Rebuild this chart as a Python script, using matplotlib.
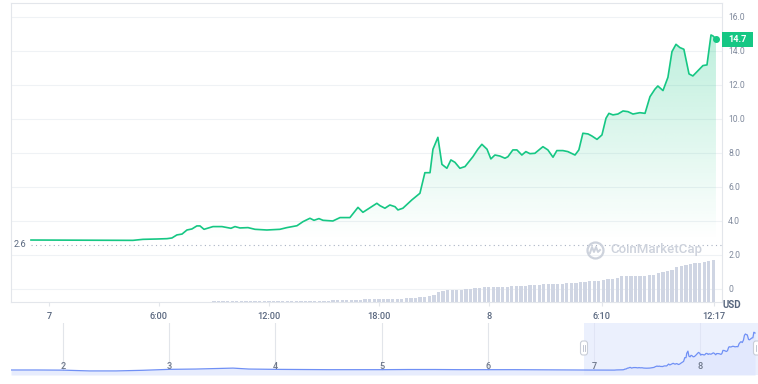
import numpy as np
import matplotlib
matplotlib.use("Agg")
import matplotlib.pyplot as plt
import matplotlib.transforms as mtransforms
from matplotlib.patches import Rectangle, FancyBboxPatch
from matplotlib.lines import Line2D

plt.rcParams['font.family'] = ['Roboto', 'DejaVu Sans']

# ---------------- data ----------------
# price: hours since 00:00 of day 7, USD
price_hours = [-0.98, 4.58, 5.13, 5.89, 6.44, 6.71, 6.98, 7.26, 7.53, 7.80, 8.07, 8.24,
               8.46, 8.95, 9.44, 9.93, 10.15, 10.42, 10.86, 11.24, 11.89, 12.60, 12.98,
               13.53, 13.86, 14.24, 14.46, 14.73, 14.95, 15.49, 15.88, 16.42, 16.86,
               17.13, 17.89, 18.06, 18.33, 18.60, 18.88, 19.04, 19.31, 19.80, 20.24,
               20.51, 20.79, 20.95, 21.22, 21.44, 21.71, 21.93, 22.15, 22.42, 22.70,
               23.13, 23.40, 23.62, 23.90, 24.11, 24.33, 24.60, 24.88, 25.04, 25.31,
               25.53, 25.80, 26.02, 26.24, 26.51, 26.95, 27.22, 27.50, 27.71, 28.04,
               28.31, 28.70, 28.91, 29.13, 29.41, 29.62, 29.90, 30.17, 30.39, 30.55,
               30.77, 31.04, 31.32, 31.59, 31.86, 32.24, 32.52, 32.79, 33.06, 33.22,
               33.50, 33.77, 33.99, 34.21, 34.42, 34.64, 34.92, 35.13, 35.41, 35.68,
               35.90, 36.12, 36.23, 36.39]
price_usd = [2.88, 2.86, 2.92, 2.94, 2.96, 3.00, 3.18, 3.23, 3.47, 3.53, 3.71, 3.71,
             3.51, 3.67, 3.67, 3.57, 3.67, 3.59, 3.61, 3.51, 3.47, 3.51, 3.61,
             3.72, 3.96, 4.16, 4.04, 4.14, 4.04, 4.00, 4.20, 4.20, 4.80,
             4.51, 5.04, 4.90, 4.75, 4.94, 4.84, 4.65, 4.75, 5.24, 5.63,
             6.84, 6.84, 8.22, 8.92, 7.33, 7.10, 7.59, 7.45, 7.10, 7.20,
             7.78, 8.22, 8.51, 8.22, 7.65, 7.88, 7.82, 7.69, 7.78, 8.18,
             8.18, 7.88, 8.08, 7.96, 7.98, 8.37, 8.18, 7.75, 8.14, 8.14,
             8.08, 7.88, 8.18, 9.16, 9.12, 9.00, 8.80, 9.06, 10.04, 10.33,
             10.24, 10.29, 10.47, 10.43, 10.29, 10.37, 10.33, 11.31, 11.75, 11.94,
             11.67, 12.45, 13.96, 14.39, 14.20, 14.10, 12.65, 12.53, 12.84, 13.14,
             13.18, 14.94, 14.88, 14.70]

# 15-minute volume bars starting 09:00 on day 7 (arbitrary units)
volume_start_hour = 9.0
volume_step_hours = 0.25
volume = ([1.0] * 19 + [1.3] * 7 + [2.0] * 7 + [3.0] * 3 + [3.5] * 6 + [4.0] * 3 +
          [5.0] * 2 + [6.3, 7.3, 9.7, 11.0] + [12.0] * 4 + [12.7] * 2 + [14.0] * 2 +
          [14.7] * 2 + [15.3] * 4 + [16.0] * 4 + [16.7] * 3 + [18.0] * 5 + [18.7] * 3 +
          [19.7] * 2 + [20.7] * 3 + [22.3, 23.0, 23.3, 24.3] + [25.7] * 6 +
          [26.7, 27.3, 29.0, 30.0, 31.0, 32.3, 34.7, 35.7, 36.7, 37.7, 38.7, 39.3,
           39.7, 40.7, 42.5])

# x ticks of main chart
xtick_hours = [0, 6, 12, 18, 24, 30 + 10 / 60, 36 + 17 / 60]
xtick_labels = ['7', '6:00', '12:00', '18:00', '8', '6:10', '12:17']
ytick_values = [0, 2, 4, 6, 8, 10, 12, 14, 16]
ytick_labels = ['0', '2.0', '4.0', '6.0', '8.0', '10.0', '12.0', '14.0', '16.0']
open_price = 2.6
last_price_label = '14.7'

# navigator (days of month), history before the main window
nav_hist_days = [1.51, 1.75, 2.0, 2.25, 2.5, 2.75, 3.0, 3.25, 3.5, 3.6, 3.75, 4.0, 4.25,
                 4.5, 4.75, 5.0, 5.25, 5.5, 5.75, 6.0, 6.25, 6.5, 6.75]
nav_hist_price = [2.9, 2.9, 2.85, 2.6, 2.6, 2.8, 3.1, 3.2, 3.4, 3.5, 3.2, 3.1, 3.05,
                  3.0, 3.0, 3.0, 3.05, 3.05, 3.0, 3.0, 3.0, 2.95, 2.9]
nav_day_ticks = [2, 3, 4, 5, 6, 7, 8]
nav_day_labels = ['2', '3', '4', '5', '6', '7', '8']
main_window_day = 7  # day the main chart hours are counted from

# ---------------- style ----------------
GREEN = '#16c784'
GRID = '#eff2f5'
FRAME = '#e3e6eb'
TXT = '#58667e'
TXT2 = '#808a9d'

W, H = 758, 384
fig = plt.figure(figsize=(W / 100, H / 100), dpi=100)
fig.patch.set_facecolor('white')

def fx(px):
    return px / W

def fy(py):
    return 1 - py / H

XMIN, XMAX = -2.07, 36.72
YMIN, YMAX = -0.765, 16.82

# ---------------- main chart ----------------
ax = fig.add_axes([fx(11), fy(302), fx(722) - fx(11), fy(3) - fy(302)])
# volume bars on hidden twin axis (created first: twinx resets tick sides)
axv = ax.twinx()
axv.set_ylim(0, 299)
vol_hours = volume_start_hour + volume_step_hours * np.arange(len(volume))
axv.bar(vol_hours, volume, width=0.18, color='#cfd5e3', linewidth=0, zorder=2)
axv.set_yticks([])
for s in axv.spines.values():
    s.set_visible(False)

ax.set_xlim(XMIN, XMAX)
ax.set_ylim(YMIN, YMAX)

for s in ax.spines.values():
    s.set_color(FRAME)
    s.set_linewidth(0.8)

ax.set_yticks(ytick_values)
ax.set_yticklabels(ytick_labels)
ax.yaxis.set_ticks_position('right')
ax.yaxis.set_label_position('right')
ax.tick_params(axis='y', which='both', left=False, labelleft=False, right=False,
               labelright=True, length=0, pad=4.5, labelsize=6.2, labelcolor=TXT2)
ax.grid(axis='y', color=GRID, linewidth=0.8)
ax.set_axisbelow(True)

ax.set_xticks(xtick_hours)
ax.set_xticklabels(xtick_labels)
ax.tick_params(axis='x', length=3, color=FRAME, width=0.8, pad=4,
               labelsize=6.6, labelcolor=TXT)
for lbl in ax.get_xticklabels():
    lbl.set_fontweight('medium')

hours = np.array(price_hours)
prices = np.array(price_usd)

# gradient fill under the line
green_rgb = matplotlib.colors.to_rgb(GREEN)
ny = 300
yv = np.linspace(open_price, 16.0, ny)
alpha = np.clip((yv - 2.9) / (15.0 - 2.9), 0, None) * 0.28
rgba = np.zeros((ny, 2, 4))
rgba[..., :3] = green_rgb
rgba[..., 3] = alpha[:, None]
im = ax.imshow(rgba, extent=[hours[0], hours[-1], open_price, 16.0], origin='lower',
               aspect='auto', zorder=1, interpolation='bilinear')
poly = ax.fill_between(hours, prices, open_price, color='none', linewidth=0)
im.set_clip_path(poly.get_paths()[0], transform=ax.transData)
ax.set_xlim(XMIN, XMAX)
ax.set_ylim(YMIN, YMAX)
axv.set_xlim(XMIN, XMAX)

ax.plot(hours, prices, color=GREEN, linewidth=1.2, zorder=3, solid_joinstyle='round')
ax.plot([hours[-1]], [prices[-1]], 'o', color=GREEN, ms=4, zorder=4)

# opening price dotted reference
ax.plot([hours[0], XMAX], [open_price, open_price], color='#a9b2c3', linewidth=0.8,
        linestyle=(0, (1, 3)), zorder=2, clip_on=False)
ax.annotate('2.6', xy=(hours[0], open_price), xytext=(-3, 0), textcoords='offset points',
            ha='right', va='center', fontsize=6.6, color=TXT, annotation_clip=False)

# last price tag
bt = mtransforms.blended_transform_factory(ax.transAxes, ax.transData)
tag_w = 31 / 711
tag_h = 7.5 / 17
ax.add_patch(Rectangle((1.0, prices[-1] - tag_h), tag_w, 2 * tag_h, transform=bt,
                       facecolor=GREEN, edgecolor='none', clip_on=False, zorder=5))
ax.text(1.0 + tag_w / 2, prices[-1], last_price_label, transform=bt, ha='center',
        va='center', color='white', fontsize=6.6, fontweight='bold', zorder=6,
        clip_on=False)

fig.text(fx(732), fy(305), 'USD', ha='center', va='center', fontsize=7,
         fontweight='bold', color=TXT)

# watermark
ident = mtransforms.IdentityTransform()
cx, cy = 595, H - 250
fig.add_artist(Line2D([cx], [cy], transform=ident, marker='o', ms=11.5,
                      mfc='none', mec='#cdd2dc', mew=1.6))
wave_dx = [-5, -3, -1, 1, 3, 5]
wave_dy = [-3, 3, -2, 3, -2, 0]
fig.add_artist(Line2D([cx + d for d in wave_dx], [cy + d for d in wave_dy],
                      transform=ident, color='#cdd2dc', linewidth=1.4))
fig.text(fx(610), fy(250), 'CoinMarketCap', ha='left', va='center', fontsize=9.5,
         color='#cdd2dc', fontweight='medium')

# ---------------- navigator ----------------
axn = fig.add_axes([fx(11), fy(375), 1 - fx(11), fy(323) - fy(375)])
axn.set_xlim(1.51, 8.544)
axn.set_ylim(1.3, 17.9)
axn.axis('off')

nav_days = np.concatenate([nav_hist_days, main_window_day + hours / 24.0])
nav_vals = np.concatenate([nav_hist_price, prices])
axn.fill_between(nav_days, nav_vals, 1.3, color='#e7ecfd', linewidth=0, zorder=1)
for d in nav_day_ticks:
    axn.axvline(d, color='#e2e5ea', linewidth=0.8, zorder=0.5)
axn.add_patch(Rectangle((6.906, 1.3), 8.544 - 6.906, 17.9 - 1.3,
                        facecolor='#dfe6fd', alpha=0.6, edgecolor='none', zorder=1.5))
axn.plot(nav_days, nav_vals, color='#7090f5', linewidth=0.9, zorder=3)
nt = mtransforms.blended_transform_factory(axn.transData, axn.transAxes)
for d, lab in zip(nav_day_ticks, nav_day_labels):
    axn.text(d, 0.155, lab, transform=nt, ha='center', va='center', fontsize=6.6,
             color='#6d778a', fontweight='medium', zorder=4)

# selection handles
for hx in (584, 757):
    fig.add_artist(FancyBboxPatch((hx - 3.5, H - 348 - 7), 7, 14,
                                  boxstyle='round,pad=0,rounding_size=2.5',
                                  transform=ident, facecolor='white',
                                  edgecolor='#c9ced8', linewidth=0.8))
    for off in (-1, 1):
        fig.add_artist(Line2D([hx + off, hx + off], [H - 351, H - 345], transform=ident,
                              color='#b5bccb', linewidth=0.6))

fig.savefig('out.png', dpi=100, facecolor='white')
